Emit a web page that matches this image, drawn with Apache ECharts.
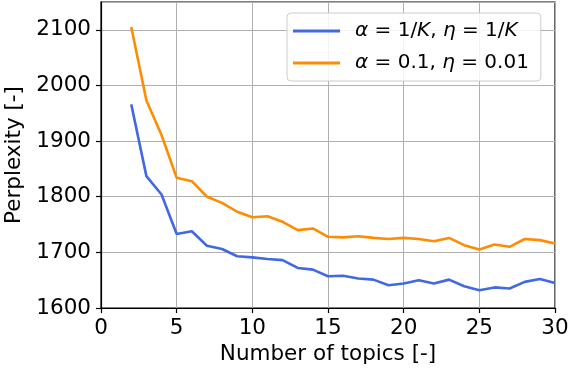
<!DOCTYPE html>
<html>
<head>
<meta charset="utf-8">
<script src="https://cdn.jsdelivr.net/npm/echarts@6/dist/echarts.min.js"></script>
<style>
  html, body { margin: 0; padding: 0; background: #fff; }
  #chart { width: 569px; height: 371px; }
</style>
</head>
<body>
<div id="chart"></div>
<script>
// number of topics K
const topics = [2, 3, 4, 5, 6, 7, 8, 9, 10, 11, 12, 13, 14, 15, 16,
  17, 18, 19, 20, 21, 22, 23, 24, 25, 26, 27, 28, 29, 30]
// alpha = 1/K, eta = 1/K
const perplexA = [1966, 1837, 1804, 1733, 1738, 1712, 1706, 1693, 1691, 1688, 1686, 1672, 1669, 1657, 1658,
  1653, 1651, 1641, 1644, 1650, 1644, 1651, 1639, 1632, 1637, 1635, 1647, 1652, 1645]
// alpha = 0.1, eta = 0.01
const perplexB = [2105, 1973, 1911, 1834, 1828, 1800, 1789, 1773, 1763, 1765, 1755, 1740, 1743, 1728, 1727,
  1729, 1726, 1724, 1726, 1724, 1720, 1726, 1713, 1705, 1714, 1710, 1724, 1722, 1716]
const xTicks = [0, 5, 10, 15, 20, 25, 30]
const yTicks = [1600, 1700, 1800, 1900, 2000, 2100]

const font = 'DejaVu Sans'
const axisFont = 21.5

function pairs(ys) {
  return topics.map((k, i) => [k, ys[i]])
}

const option = {
  animation: false,
  grid: {
    left: 101, right: 14, top: 2, bottom: 63,
    outerBoundsMode: 'none', containLabel: false,
    show: true, borderColor: '#000', borderWidth: 1.2, backgroundColor: 'transparent'
  },
  legend: {
    orient: 'vertical',
    left: 287, top: 13,
    padding: [6, 12, 6, 6],
    itemGap: 8,
    itemWidth: 47, itemHeight: 3,
    icon: 'rect',
    backgroundColor: 'rgba(255,255,255,0.85)',
    borderColor: '#cccccc', borderWidth: 1, borderRadius: 4,
    data: ['a', 'b'],
    formatter: name => name === 'a'
      ? '{i|α} = 1/{i|K}, {i|η} = 1/{i|K}'
      : '{i|α} = 0.1, {i|η} = 0.01',
    textStyle: {
      fontFamily: font, fontSize: 20, color: '#000', lineHeight: 24,
      padding: [0, 0, 0, 10],
      rich: {
        i: { fontFamily: font, fontSize: 20, fontStyle: 'italic', color: '#000', lineHeight: 24 }
      }
    }
  },
  xAxis: {
    type: 'value', min: xTicks[0], max: xTicks[xTicks.length - 1], interval: 5,
    name: 'Number of topics [-]', nameLocation: 'middle', nameGap: 33,
    nameTextStyle: { fontFamily: font, fontSize: axisFont, color: '#000' },
    axisLine: { lineStyle: { color: '#000', width: 1.2 } },
    axisTick: { show: true, length: 5, lineStyle: { color: '#000', width: 1.2 } },
    axisLabel: { fontFamily: font, fontSize: axisFont, color: '#000', margin: 9 },
    splitLine: { show: true, lineStyle: { color: '#b0b0b0', width: 1 } }
  },
  yAxis: {
    type: 'value', min: yTicks[0], max: 2150, interval: 100,
    name: 'Perplexity [-]', nameLocation: 'middle', nameGap: 66, nameRotate: 90,
    nameTextStyle: { fontFamily: font, fontSize: axisFont, color: '#000' },
    axisLine: { show: true, lineStyle: { color: '#000', width: 1.2 } },
    axisTick: { show: true, length: 5, lineStyle: { color: '#000', width: 1.2 } },
    axisLabel: {
      fontFamily: font, fontSize: axisFont, color: '#000', margin: 10, showMaxLabel: false,
      formatter: v => String(v)
    },
    splitLine: { show: true, lineStyle: { color: '#b0b0b0', width: 1 } }
  },
  series: [
    {
      name: 'a', type: 'line', data: pairs(perplexA), showSymbol: false,
      color: '#4169e1', lineStyle: { color: '#4169e1', width: 2.6 }
    },
    {
      name: 'b', type: 'line', data: pairs(perplexB), showSymbol: false,
      color: '#ff8c00', lineStyle: { color: '#ff8c00', width: 2.6 }
    }
  ]
}

const myChart = echarts.init(document.getElementById('chart'))
myChart.setOption(option)
</script>
</body>
</html>
